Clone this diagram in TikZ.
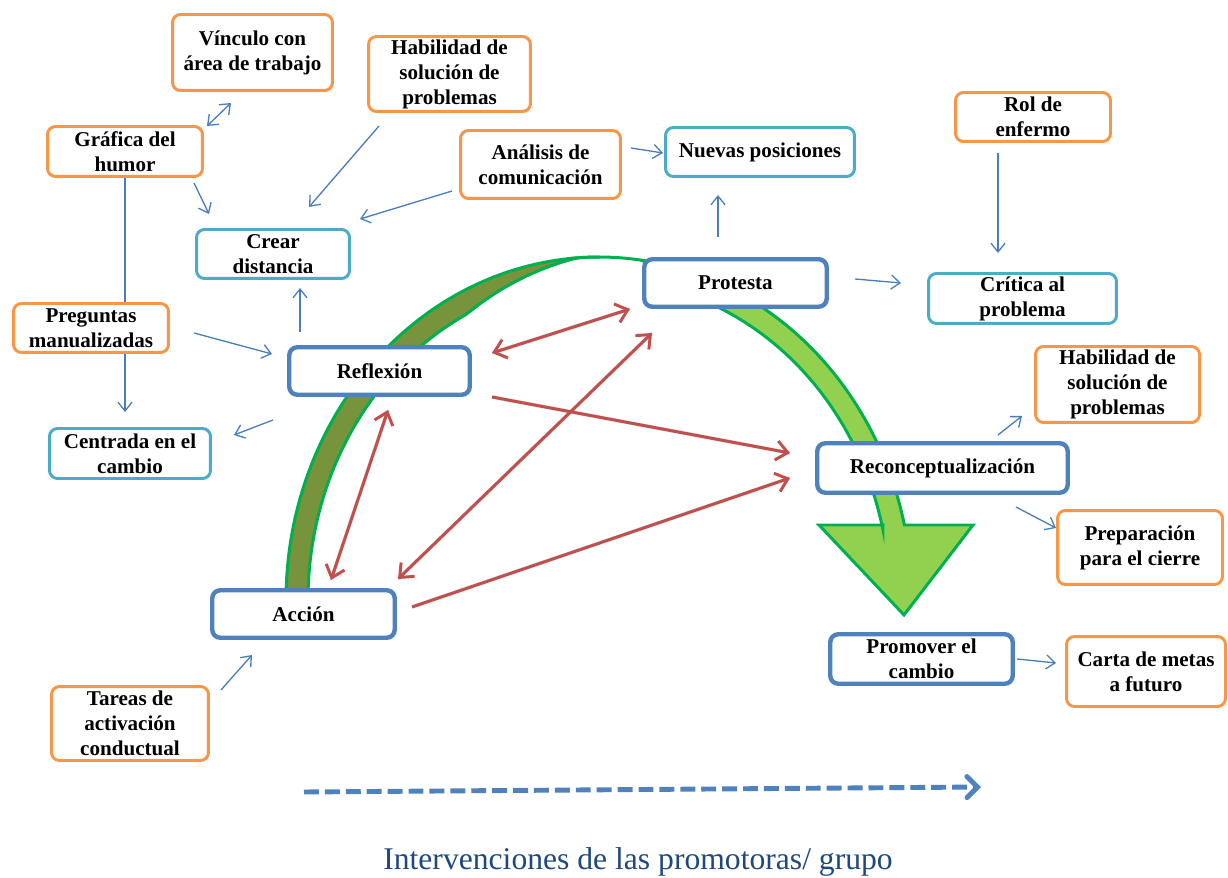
\documentclass[tikz,border=0pt]{standalone}
\usepackage{fontspec}
\setmainfont{Liberation Serif}
\usetikzlibrary{arrows.meta}
\definecolor{obox}{HTML}{F79646}
\definecolor{cbox}{HTML}{4BACC6}
\definecolor{bbox}{HTML}{4F81BD}
\definecolor{redc}{HTML}{C0504D}
\definecolor{blc}{HTML}{4A7EBB}
\definecolor{grline}{HTML}{00B050}
\definecolor{grlight}{HTML}{92D050}
\definecolor{grdark}{HTML}{77933C}
\definecolor{titleblue}{HTML}{1F497D}
\begin{document}
\begin{tikzpicture}[x=0.02cm,y=-0.02cm,
  box/.style={rounded corners=0.16cm, fill=white, align=center, inner sep=0pt,
    font=\fontsize{12}{14.2}\selectfont\bfseries},
  obx/.style={box, draw=obox, line width=1.7pt},
  cbx/.style={box, draw=cbox, line width=1.7pt},
  bbx/.style={box, draw=bbox, line width=2.5pt},
  thinarr/.style={draw=blc, line width=0.75pt, -{Straight Barb[length=5pt,width=8pt]}},
  thindbl/.style={draw=blc, line width=0.75pt, {Straight Barb[length=5pt,width=8pt]}-{Straight Barb[length=5pt,width=8pt]}},
  thinline/.style={draw=blc, line width=0.75pt},
  redarr/.style={draw=redc, line width=1.7pt, -{Straight Barb[length=6.5pt,width=11pt]}},
  reddbl/.style={draw=redc, line width=1.7pt, {Straight Barb[length=6.5pt,width=11pt]}-{Straight Barb[length=6.5pt,width=11pt]}},
  redshadow/.style={draw=black, opacity=0.12, line width=2.2pt},
  dasharr/.style={draw=bbox, line width=2.8pt, dash pattern=on 8.5pt off 3.4pt, -{Straight Barb[length=6pt,width=12pt,line cap=round]}},
  arcline/.style={draw=grline, line width=1.7pt, line join=round}
]
\useasboundingbox (0,0) rectangle (1228,878);

% green curved arrow
\filldraw[arcline, fill=grdark]
  plot[domain=180:270, samples=80] ({599+313*cos(\x)},{600+343*sin(\x)})
  -- plot[domain=270:180, samples=80] ({599+(313-max(0,min(22,22*(266-\x)/23)))*cos(\x)},{600+(343-max(0,min(22,22*(266-\x)/23)))*sin(\x)})
  -- cycle;
\filldraw[arcline, fill=grlight, line join=miter]
  plot[domain=265:347.37, samples=80] ({599+313*cos(\x)},{600+343*sin(\x)})
  -- (973,525) -- (904,615) -- (819,525) -- (883,525)
  -- plot[domain=347.37:265, samples=80] ({599+(313-max(0,min(22,22*(\x-278)/15)))*cos(\x)},{600+(343-max(0,min(22,22*(\x-278)/15)))*sin(\x)})
  -- cycle;

% boxes
\node[obx, minimum width=3.2cm, minimum height=1.52cm] (vinculo) at (252.5,52.5) {Vínculo con\\área de trabajo};
\node[obx, minimum width=3.24cm, minimum height=1.5cm] (hab1) at (449.5,74) {Habilidad de\\solución de\\problemas};
\node[obx, minimum width=3.1cm, minimum height=1.0cm] (grafica) at (125,151.5) {Gráfica del\\humor};
\node[obx, minimum width=3.2cm, minimum height=1.36cm] (analisis) at (540.5,164.5) {Análisis de\\comunicación};
\node[obx, minimum width=3.1cm, minimum height=0.98cm] (rol) at (1033,117) {Rol de\\enfermo};
\node[obx, minimum width=3.1cm, minimum height=0.98cm] (preguntas) at (91,328) {Preguntas\\manualizadas};
\node[obx, minimum width=3.28cm, minimum height=1.52cm] (hab2) at (1117.5,384.5) {Habilidad de\\solución de\\problemas};
\node[obx, minimum width=3.3cm, minimum height=1.48cm] (prep) at (1140,547.5) {Preparación\\para el cierre};
\node[obx, minimum width=3.18cm, minimum height=1.4cm] (carta) at (1146,671.5) {Carta de metas\\a futuro};
\node[obx, minimum width=3.14cm, minimum height=1.48cm] (tareas) at (130,723.5) {Tareas de\\activación\\conductual};

\node[cbx, minimum width=3.06cm, minimum height=0.98cm] (crear) at (273,254) {Crear\\distancia};
\node[cbx, minimum width=3.78cm, minimum height=0.98cm] (nuevas) at (760,152) {Nuevas posiciones};
\node[cbx, minimum width=3.76cm, minimum height=1.0cm] (critica) at (1022.5,298.5) {Crítica al\\problema};
\node[cbx, minimum width=3.22cm, minimum height=1.0cm] (centrada) at (130,453.5) {Centrada en el\\cambio};

\node[bbx, minimum width=3.65cm, minimum height=0.95cm] (protesta) at (735.5,283) {Protesta};
\node[bbx, minimum width=3.61cm, minimum height=0.95cm] (reflexion) at (379.5,371) {Reflexión};
\node[bbx, minimum width=5.01cm, minimum height=0.99cm] (recon) at (942.5,468) {Reconceptualización};
\node[bbx, minimum width=3.65cm, minimum height=0.95cm] (accion) at (303.5,614) {Acción};
\node[bbx, minimum width=3.65cm, minimum height=0.99cm] (promover) at (921.5,659) {Promover el\\cambio};

% connector end points
\coordinate (vinA) at (231,103);   \coordinate (graA) at (207,126);
\coordinate (graB) at (194,183);   \coordinate (creA) at (209,214);
\coordinate (habA) at (379,126);   \coordinate (creB) at (309,207);
\coordinate (anaA) at (452,191);   \coordinate (creC) at (360,219);
\coordinate (anaB) at (631,148);   \coordinate (nueA) at (663,153);
\coordinate (proA) at (718,237);   \coordinate (nueB) at (718,195);
\coordinate (rolA) at (998,153);   \coordinate (criA) at (998,253);
\coordinate (proB) at (855,279);   \coordinate (criB) at (901,283);
\coordinate (graC) at (125,178);   \coordinate (preA) at (125,302);
\coordinate (preB) at (125,354);   \coordinate (cenA) at (125,412);
\coordinate (preC) at (194,333);   \coordinate (refA) at (272,354);
\coordinate (refB) at (300,332);   \coordinate (creD) at (300,288);
\coordinate (refC) at (273,420);   \coordinate (cenB) at (234,435);
\coordinate (recA) at (998,435);   \coordinate (habB) at (1022,416);
\coordinate (recB) at (1016,507);  \coordinate (preD) at (1056,528);
\coordinate (proC) at (1017,659);  \coordinate (carA) at (1056,663);
\coordinate (tarA) at (221,690);   \coordinate (accA) at (252,655);

\coordinate (refR1) at (492,353);  \coordinate (proR1) at (630,309);
\coordinate (refR2) at (492,397);  \coordinate (recR1) at (790,453);
\coordinate (accR1) at (398,579);  \coordinate (proR2) at (652,333);
\coordinate (refR3) at (388,410);  \coordinate (accR2) at (331,580);
\coordinate (accR3) at (412,607);  \coordinate (recR2) at (790,478);

\coordinate (dashA) at (304,792);  \coordinate (dashB) at (981,787);

% blue connectors
\draw[thindbl] (vinA) -- (graA);
\draw[thinarr] (graB) -- (creA);
\draw[thinarr] (habA) -- (creB);
\draw[thinarr] (anaA) -- (creC);
\draw[thinarr] (anaB) -- (nueA);
\draw[thinarr] (proA) -- (nueB);
\draw[thinarr] (rolA) -- (criA);
\draw[thinarr] (proB) -- (criB);
\draw[thinline] (graC) -- (preA);
\draw[thinarr] (preB) -- (cenA);
\draw[thinarr] (preC) -- (refA);
\draw[thinarr] (refB) -- (creD);
\draw[thinarr] (refC) -- (cenB);
\draw[thinarr] (recA) -- (habB);
\draw[thinarr] (recB) -- (preD);
\draw[thinarr] (proC) -- (carA);
\draw[thinarr] (tarA) -- (accA);

% red connectors
\begin{scope}[shift={(2,2)}]
\draw[redshadow] (refR1) -- (proR1);
\draw[redshadow] (refR2) -- (recR1);
\draw[redshadow] (accR1) -- (proR2);
\draw[redshadow] (refR3) -- (accR2);
\draw[redshadow] (accR3) -- (recR2);
\end{scope}
\draw[reddbl] (refR1) -- (proR1);
\draw[redarr] (refR2) -- (recR1);
\draw[reddbl] (accR1) -- (proR2);
\draw[reddbl] (refR3) -- (accR2);
\draw[redarr] (accR3) -- (recR2);

% dashed timeline arrow
\draw[dasharr] (dashA) -- (dashB);

\node[anchor=base, text=titleblue, font=\fontsize{18}{21}\selectfont, inner sep=0pt] (title) at (638,869) {Intervenciones de las promotoras/ grupo};
\end{tikzpicture}
\end{document}
